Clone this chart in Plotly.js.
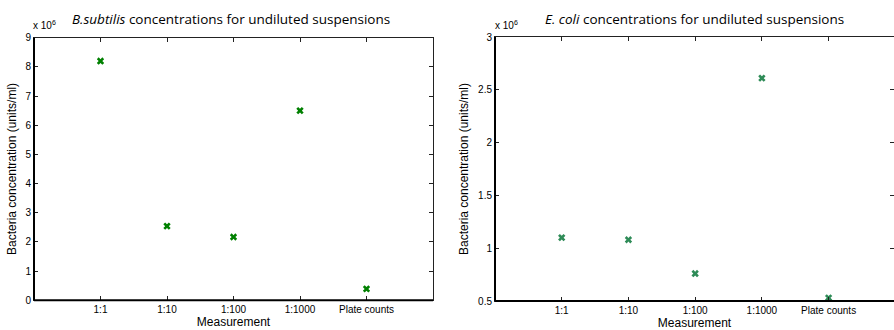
<!DOCTYPE html>
<html><head><meta charset="utf-8">
<script src="https://cdn.plot.ly/plotly-3.0.1.min.js"></script>
<style>html,body{margin:0;padding:0;background:#fff;overflow:hidden}</style>
</head><body>
<div id="chart" style="width:894px;height:330px"></div>
<script>
const categories = ["1:1", "1:10", "1:100", "1:1000", "Plate counts"];
const bsubtilisMillions = [8.2, 2.54, 2.17, 6.5, 0.39];
const ecoliMillions = [1.1, 1.08, 0.76, 2.61, 0.53];
const leftYTicks = [0, 1, 2, 3, 4, 5, 6, 7, 8, 9];
const rightYTicks = [0.5, 1, 1.5, 2, 2.5, 3];

const W = 894, H = 330;
const tickFont = {family: "Liberation Sans, Arial, sans-serif", size: 10, color: "#000"};
const titleFont = {family: "Liberation Sans, Arial, sans-serif", size: 12, color: "#000"};

function xax(domain, range, anchor) {
  return {
    domain: domain, range: range, type: "category", anchor: anchor,
    showline: true, linecolor: "#222", linewidth: 1, mirror: "ticks",
    ticks: "inside", ticklen: 4, tickcolor: "#222", showgrid: false, zeroline: false,
    tickfont: tickFont, fixedrange: true,
    title: {text: "Measurement", font: titleFont, standoff: 2}
  };
}
function yax(domain, range, tickvals, anchor) {
  return {
    domain: domain, range: range, anchor: anchor, tickvals: tickvals,
    showline: true, linecolor: "#222", linewidth: 1, mirror: "ticks",
    ticks: "inside", ticklen: 4, tickcolor: "#222", showgrid: false, zeroline: false,
    tickfont: tickFont, fixedrange: true,
    title: {text: "Bacteria concentration (units/ml)", font: titleFont, standoff: 6}
  };
}

const traces = [
  {x: categories, y: bsubtilisMillions, type: "scatter", mode: "markers", xaxis: "x", yaxis: "y",
   marker: {symbol: "x", size: 6.5, color: "#008000", line: {width: 0}}},
  {x: categories, y: ecoliMillions, type: "scatter", mode: "markers", xaxis: "x2", yaxis: "y2",
   marker: {symbol: "x", size: 6.5, color: "#2e8b57", line: {width: 0}}}
];

function frameShapes(xr, yr) {
  const s = {type: "line", line: {color: "#000", width: 2}};
  return [
    Object.assign({}, s, {xref: xr + " domain", yref: yr + " domain", x0: 0, x1: 0, y0: 0, y1: 1}),
    Object.assign({}, s, {xref: xr + " domain", yref: yr + " domain", x0: 0, x1: 1, y0: 0, y1: 0})
  ];
}

const titleStyle = {family: "Open Sans, sans-serif", size: 13.5, color: "#000"};
const expStyle = {family: "Liberation Sans, Arial, sans-serif", size: 10, color: "#000"};

const layout = {
  width: W, height: H, margin: {l: 0, r: 0, t: 0, b: 0},
  paper_bgcolor: "#fff", plot_bgcolor: "#fff", showlegend: false,
  xaxis: xax([34 / W, 433 / W], [-1, 5], "y"),
  yaxis: yax([(H - 300.3) / H, (H - 37.7) / H], [0, 9], leftYTicks, "x"),
  xaxis2: xax([495 / W, 1], [-1, 4.98], "y2"),
  yaxis2: yax([(H - 301) / H, (H - 37) / H], [0.5, 3], rightYTicks, "x2"),
  shapes: frameShapes("x", "y").concat(frameShapes("x2", "y2")),
  annotations: [
    {text: "<i>B.subtilis</i> concentrations for undiluted suspensions", xref: "paper", yref: "paper",
     x: 231 / W, y: (H - 19) / H, xanchor: "center", yanchor: "middle", showarrow: false, font: titleStyle},
    {text: "<i>E. coli</i> concentrations for undiluted suspensions", xref: "paper", yref: "paper",
     x: 694 / W, y: (H - 19) / H, xanchor: "center", yanchor: "middle", showarrow: false, font: titleStyle},
    {text: "x 10<sup>6</sup>", xref: "paper", yref: "paper", x: 31 / W, y: (H - 33) / H,
     xanchor: "left", yanchor: "bottom", showarrow: false, font: expStyle},
    {text: "x 10<sup>6</sup>", xref: "paper", yref: "paper", x: 493 / W, y: (H - 33) / H,
     xanchor: "left", yanchor: "bottom", showarrow: false, font: expStyle}
  ]
};

Plotly.newPlot("chart", traces, layout, {displayModeBar: false, staticPlot: true});
</script>
</body></html>
